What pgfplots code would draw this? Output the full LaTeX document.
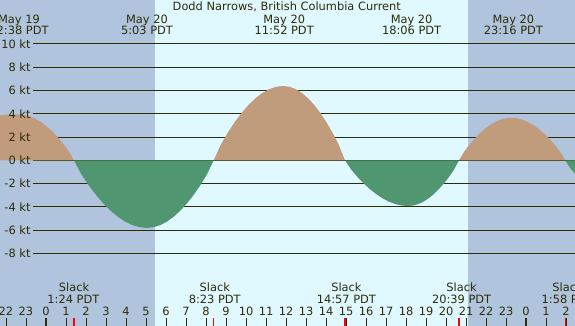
\documentclass[border=0pt]{standalone}
\usepackage{fontspec}
\setmainfont{DejaVu Sans}
\usepackage{pgfplots}
\pgfplotsset{compat=1.18}

\definecolor{night}{RGB}{176,196,222}
\definecolor{day}{RGB}{224,248,255}
\definecolor{flood}{RGB}{192,156,124}
\definecolor{ebb}{RGB}{80,150,112}
\definecolor{textcol}{RGB}{45,45,5}

\newcommand{\labfont}{\fontsize{11.4}{13}\selectfont}
% one line of text, centred on its x, baseline at y
\newcommand{\lab}[3]{\node[anchor=base, text=textcol, inner sep=0pt, font=\labfont] at (axis cs:#1,#2) {#3};}
\newcommand{\kt}[2]{\node[anchor=east, text=textcol, inner sep=0pt, font=\labfont] at (axis cs:-0.765,#1) {#2};}

\begin{document}
\begin{tikzpicture}[every node/.append style={font=\labfont}]
\begin{axis}[
    scale only axis,
    width=575pt, height=326pt,
    xmin=-2.3, xmax=26.45,
    ymin=-14.22, ymax=13.76,
    axis line style={draw=none},
    axis on top,
    clip mode=individual,
    ytick=\empty,
    xtick={-2,-1,0,1,2,3,4,5,6,7,8,9,10,11,12,13,14,15,16,17,18,19,20,21,22,23,24,25,26},
    xticklabels={22,23,0,1,2,3,4,5,6,7,8,9,10,11,12,13,14,15,16,17,18,19,20,21,22,23,0,1,2},
    xtick pos=left,
    tick align=inside,
    major tick length=7.7pt,
    major tick style={textcol, line width=1pt},
    xticklabel style={anchor=base, yshift=10.3pt, text=textcol, inner sep=0pt, font=\labfont},
    extra x ticks={1.4,8.383,14.95,20.65,25.967},
    extra x tick labels={,,,,},
    extra x tick style={major tick style={red, line width=1.2pt}},
]
% night / day background
\addplot[fill=night, draw=none] coordinates {(-2.4,-14.5) (5.45,-14.5) (5.45,14) (-2.4,14)};
\addplot[fill=day, draw=none] coordinates {(5.45,-14.5) (21.12,-14.5) (21.12,14) (5.45,14)};
\addplot[fill=night, draw=none] coordinates {(21.12,-14.5) (26.6,-14.5) (26.6,14) (21.12,14)};

% knot lines
\addplot[textcol, line width=1pt] coordinates {(-0.65,10) (26.6,10)};
\addplot[textcol, line width=1pt] coordinates {(-0.65,8) (26.6,8)};
\addplot[textcol, line width=1pt] coordinates {(-0.65,6) (26.6,6)};
\addplot[textcol, line width=1pt] coordinates {(-0.65,4) (26.6,4)};
\addplot[textcol, line width=1pt] coordinates {(-0.65,2) (26.6,2)};
\addplot[textcol, line width=1pt] coordinates {(-0.65,0) (26.6,0)};
\addplot[textcol, line width=1pt] coordinates {(-0.65,-2) (26.6,-2)};
\addplot[textcol, line width=1pt] coordinates {(-0.65,-4) (26.6,-4)};
\addplot[textcol, line width=1pt] coordinates {(-0.65,-6) (26.6,-6)};
\addplot[textcol, line width=1pt] coordinates {(-0.65,-8) (26.6,-8)};

% current, one lobe per flood / ebb
\addplot[fill=flood, draw=none] coordinates {(-2.4,3.85) (-2.0,3.92) (-1.367,3.95) (-1.090,3.909) (-0.813,3.785) (-0.537,3.581) (-0.260,3.299) (0.017,2.942) (0.293,2.515) (0.570,2.018) (0.847,1.456) (1.123,0.816) (1.400,0)} \closedcycle;
\addplot[fill=ebb, draw=none] coordinates {(1.400,0) (1.765,-1.198) (2.130,-2.137) (2.495,-2.964) (2.860,-3.692) (3.225,-4.320) (3.590,-4.844) (3.955,-5.258) (4.320,-5.558) (4.685,-5.739) (5.050,-5.800) (5.383,-5.739) (5.717,-5.558) (6.050,-5.258) (6.383,-4.844) (6.717,-4.320) (7.050,-3.692) (7.383,-2.964) (7.717,-2.137) (8.050,-1.198) (8.383,0)} \closedcycle;
\addplot[fill=flood, draw=none] coordinates {(8.383,0) (8.731,1.318) (9.080,2.351) (9.428,3.260) (9.776,4.062) (10.125,4.752) (10.473,5.329) (10.821,5.784) (11.170,6.114) (11.518,6.313) (11.867,6.380) (12.175,6.313) (12.484,6.114) (12.792,5.784) (13.100,5.329) (13.409,4.752) (13.717,4.062) (14.025,3.260) (14.334,2.351) (14.642,1.318) (14.950,0)} \closedcycle;
\addplot[fill=ebb, draw=none] coordinates {(14.950,0) (15.265,-0.810) (15.580,-1.445) (15.895,-2.003) (16.210,-2.495) (16.525,-2.920) (16.840,-3.274) (17.155,-3.554) (17.470,-3.757) (17.785,-3.879) (18.100,-3.920) (18.355,-3.879) (18.610,-3.757) (18.865,-3.554) (19.120,-3.274) (19.375,-2.920) (19.630,-2.495) (19.885,-2.003) (20.140,-1.445) (20.395,-0.810) (20.650,0)} \closedcycle;
\addplot[fill=flood, draw=none] coordinates {(20.650,0) (20.912,0.754) (21.173,1.345) (21.435,1.865) (21.697,2.324) (21.958,2.719) (22.220,3.048) (22.482,3.309) (22.744,3.498) (23.005,3.612) (23.267,3.650) (23.537,3.612) (23.807,3.498) (24.077,3.309) (24.347,3.048) (24.617,2.719) (24.887,2.324) (25.157,1.865) (25.427,1.345) (25.697,0.754) (25.967,0)} \closedcycle;
\addplot[fill=ebb, draw=none] coordinates {(25.967,0) (26.2,-0.65) (26.5,-1.25)} \closedcycle;

% midnight marks
\addplot[textcol, line width=2.5pt] coordinates {(0,-14.4) (0,-13.56)};
\addplot[textcol, line width=2.5pt] coordinates {(24,-14.4) (24,-13.56)};

% texts
\lab{12.04}{12.82}{Dodd Narrows, British Columbia Current}
\lab{-1.35}{11.76}{May 19}    \lab{-1.35}{10.76}{22:38 PDT}
\lab{5.05}{11.76}{May 20}     \lab{5.05}{10.76}{5:03 PDT}
\lab{11.91}{11.76}{May 20}    \lab{11.91}{10.76}{11:52 PDT}
\lab{18.28}{11.76}{May 20}    \lab{18.28}{10.76}{18:06 PDT}
\lab{23.37}{11.76}{May 20}    \lab{23.37}{10.76}{23:16 PDT}

\lab{1.4}{-11.22}{Slack}      \lab{1.37}{-12.27}{1:24 PDT}
\lab{8.44}{-11.22}{Slack}     \lab{8.44}{-12.27}{8:23 PDT}
\lab{15.02}{-11.22}{Slack}    \lab{15.02}{-12.27}{14:57 PDT}
\lab{20.78}{-11.22}{Slack}    \lab{20.78}{-12.27}{20:39 PDT}
\lab{26.08}{-11.22}{Slack}    \lab{26.08}{-12.27}{1:58 PDT}

\kt{10}{10 kt} \kt{8}{8 kt} \kt{6}{6 kt} \kt{4}{4 kt} \kt{2}{2 kt}
\kt{0}{0 kt} \kt{-2}{-2 kt} \kt{-4}{-4 kt} \kt{-6}{-6 kt} \kt{-8}{-8 kt}
\end{axis}
\pgfresetboundingbox
\path (current axis.south west) rectangle (current axis.north east);
\end{tikzpicture}
\end{document}
